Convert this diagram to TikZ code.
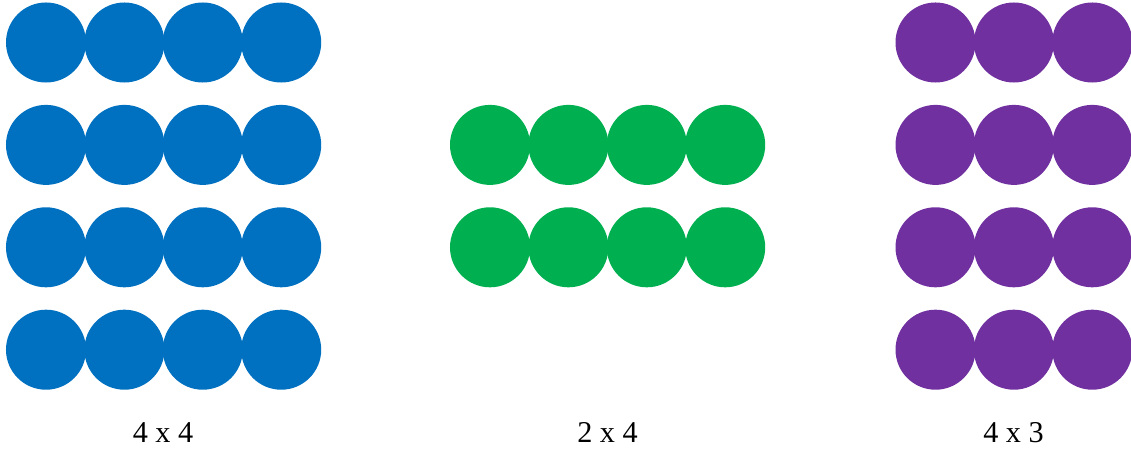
\documentclass[tikz,border=0pt]{standalone}
\usepackage{fontspec}
\setmainfont{Liberation Serif}
\definecolor{dotblue}{HTML}{0070C0}
\definecolor{dotgreen}{HTML}{00B050}
\definecolor{dotpurple}{HTML}{7030A0}
\tikzset{dot/.style={circle,inner sep=0pt,minimum size=2cm},
  grid label/.style={anchor=base,font=\fontsize{21.5}{25}\selectfont}}
\begin{document}
\begin{tikzpicture}[x=0.025cm,y=-0.025cm]
\useasboundingbox (0,0) rectangle (1131,452);
% 4 x 4
\foreach \r in {0,...,3} \foreach \c in {0,...,3}
  \node[dot,fill=dotblue] (b\r\c) at (46+78.4*\c,42.5+102.4*\r){};
% 2 x 4
\foreach \r in {0,1} \foreach \c in {0,...,3}
  \node[dot,fill=dotgreen] (g\r\c) at (490+78.4*\c,144.9+102.4*\r){};
% 4 x 3
\foreach \r in {0,...,3} \foreach \c in {0,...,2}
  \node[dot,fill=dotpurple] (p\r\c) at (935.5+78.4*\c,42.5+102.4*\r){};
\node[grid label] (lb) at (163,442){4 x 4};
\node[grid label] (lg) at (607.5,442){2 x 4};
\node[grid label] (lp) at (1013.5,442){4 x 3};
\end{tikzpicture}
\end{document}
